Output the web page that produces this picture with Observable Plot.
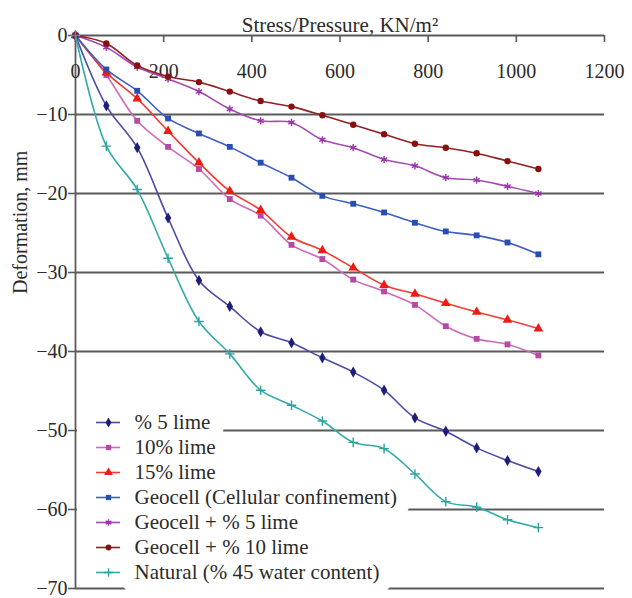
<!DOCTYPE html>
<html><head><meta charset="utf-8">
<script src="https://cdn.jsdelivr.net/npm/d3@7"></script>
<script src="https://cdn.jsdelivr.net/npm/@observablehq/plot@0.6"></script>
<style>
html,body{margin:0;padding:0;background:#fff;overflow:hidden}
#wrap{position:relative;width:632px;height:598px}
#legend{position:absolute;left:77px;top:400px}
</style></head><body><div id="wrap"><div id="chart"></div><div id="legend"></div></div>
<script>
// Stress/Pressure (kN/m2) at each reading
const pressure = [0,70,140,210,280,350,420,490,560,630,700,770,840,910,980,1050];
// Deformation (mm) per series
const lime5     = [0,-8.9,-14.2,-23.1,-31.0,-34.3,-37.5,-38.9,-40.8,-42.6,-44.9,-48.4,-50.1,-52.2,-53.8,-55.2];
const lime10    = [0,-5.0,-10.8,-14.1,-16.9,-20.7,-22.8,-26.5,-28.3,-30.9,-32.4,-34.1,-36.8,-38.4,-39.1,-40.5];
const lime15    = [0,-4.7,-8.0,-12.1,-16.1,-19.7,-22.1,-25.5,-27.2,-29.4,-31.6,-32.7,-33.9,-35.0,-36.0,-37.1];
const geocell   = [0,-4.3,-7.0,-10.5,-12.4,-14.1,-16.1,-18.0,-20.3,-21.3,-22.4,-23.7,-24.8,-25.3,-26.2,-27.7];
const geocell5  = [0,-1.5,-4.0,-5.5,-7.1,-9.3,-10.8,-11.0,-13.2,-14.2,-15.7,-16.5,-18.0,-18.3,-19.1,-20.0];
const geocell10 = [0,-1.0,-3.8,-5.2,-5.9,-7.1,-8.3,-9.0,-10.1,-11.3,-12.5,-13.7,-14.2,-14.9,-15.9,-16.9];
const natural   = [0,-14.0,-19.5,-28.2,-36.2,-40.3,-44.9,-46.8,-48.8,-51.5,-52.3,-55.5,-59.0,-59.7,-61.3,-62.3];

const seriesNames = ["% 5 lime","10% lime","15% lime","Geocell (Cellular confinement)","Geocell + % 5 lime","Geocell + % 10 lime","Natural (% 45 water content)"];
const seriesValues = [lime5, lime10, lime15, geocell, geocell5, geocell10, natural];

const xTicks = [0,200,400,600,800,1000,1200];
const yTicks = [0,-10,-20,-30,-40,-50,-60,-70];
const gridTicks = [-10,-20,-30,-40,-50,-60,-70];

const xTitle = "Stress/Pressure, KN/m²";
const yTitle = "Deformation, mm";

// styling per series
const styles = [
  {line:"#4a4aa8", mark:"#1e1e78", symbol:"diamond", r:3.4, filled:true},
  {line:"#cc6abb", mark:"#b44aa2", symbol:"square", r:3.3, filled:true},
  {line:"#f23a32", mark:"#ee1a14", symbol:"triangle", r:3.6, filled:true},
  {line:"#3c5fc0", mark:"#2a4db2", symbol:"square", r:3.3, filled:true},
  {line:"#a448b4", mark:"#9a34a8", symbol:"asterisk", r:3.4, filled:false},
  {line:"#921f22", mark:"#8a0d10", symbol:"circle", r:3.2, filled:true},
  {line:"#33aaa8", mark:"#2aa3a0", symbol:"plus", r:3.2, filled:false}
];

const series = seriesNames.map((name, i) => ({name, values: seriesValues[i], ...styles[i]}));

const font = "'Liberation Serif', 'DejaVu Serif', serif";
const textColor = "#2b2b2b";
const gridColor = "#5a5a5a";

const seriesMarks = series.flatMap(s => {
  const data = pressure.map((p, i) => ({p, v: s.values[i]}));
  return [
    Plot.line(data, {x:"p", y:"v", stroke:s.line, strokeWidth:1.6, curve:"catmull-rom"}),
    Plot.dot(data, s.filled
      ? {x:"p", y:"v", symbol:s.symbol, r:s.r, fill:s.mark, stroke:"none"}
      : {x:"p", y:"v", symbol:s.symbol, r:s.r, stroke:s.mark, strokeWidth:1.4, fill:"none"})
  ];
});

const chart = Plot.plot({
  width: 632,
  height: 598,
  marginLeft: 75,
  marginRight: 28,
  marginTop: 35,
  marginBottom: 10,
  x: {domain:[0,1200], axis:null},
  y: {domain:[-70,0], axis:null},
  style: {fontFamily: font, fontSize:"20px", color:textColor, background:"white"},
  marks: [
    Plot.ruleY(gridTicks, {y:d=>d, stroke:gridColor, strokeWidth:1.8}),
    Plot.ruleY([0], {stroke:gridColor, strokeWidth:1.8}),
    Plot.ruleX([0], {stroke:gridColor, strokeWidth:1.8}),
    Plot.ruleX(xTicks, {x:d=>d, insetBottom:546, stroke:gridColor, strokeWidth:1.6}),
    Plot.text(xTicks, {x:d=>d, frameAnchor:"top", dy:28, text:d=>String(d), fontSize:20, fill:textColor}),
    Plot.axisY(yTicks, {tickSize:7, tickPadding:1, fontSize:20, label:null, stroke:gridColor, strokeWidth:1.6, fill:textColor}),
    Plot.text([xTitle], {frameAnchor:"top", dy:-18, text:d=>d, fontSize:21, fill:textColor}),
    Plot.text([yTitle], {frameAnchor:"left", dx:-55, dy:-18, rotate:-90, text:d=>d, fontSize:20, fill:textColor}),
    ...seriesMarks
  ]
});
document.getElementById("chart").appendChild(chart);

const legend = Plot.plot({
  width: 340,
  height: 198,
  margin: 0,
  x: {domain:[0,340], range:[0,340], axis:null},
  y: {type:"point", domain: seriesNames, range:[20,173], padding:0, axis:null},
  style: {fontFamily: font, fontSize:"21px", color:textColor, background:"transparent"},
  marks: [
    Plot.ruleY(series, {y:"name", x1:0, x2:59, stroke:"white", strokeWidth:26}),
    Plot.text(series, {x:57, y:"name", text:"name", textAnchor:"start", fontSize:21, fill:"white", stroke:"white", strokeWidth:28, strokeLinejoin:"round"}),
    ...series.flatMap(s => [
      Plot.ruleY([s], {y:"name", x1:19, x2:43, stroke:s.line, strokeWidth:1.6}),
      Plot.dot([s], s.filled
        ? {x:31, y:"name", symbol:s.symbol, r:s.r * 0.9, fill:s.mark, stroke:"none"}
        : {x:31, y:"name", symbol:s.symbol, r:s.r * 0.9, stroke:s.mark, strokeWidth:1.4, fill:"none"})
    ]),
    Plot.text(series, {x:57, y:"name", text:"name", textAnchor:"start", fontSize:21, fill:textColor})
  ]
});
document.getElementById("legend").appendChild(legend);
</script>
</body></html>
